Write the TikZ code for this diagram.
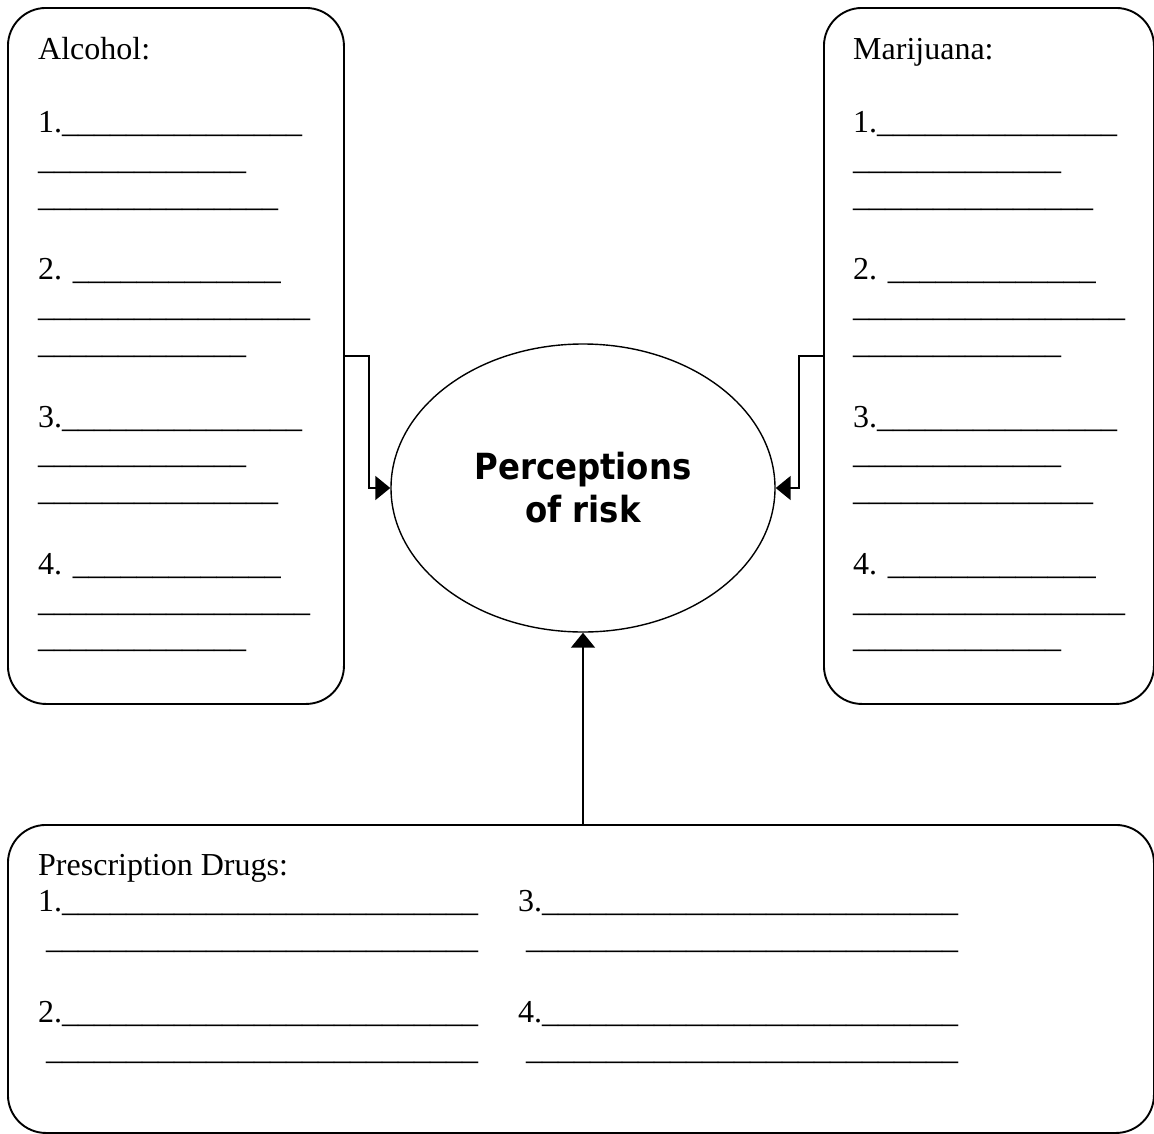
\documentclass[tikz,border=0pt]{standalone}
\usepackage{fontspec}
\setmainfont{Liberation Serif}
\newfontfamily\percfont{DejaVu Sans Condensed}
\usetikzlibrary{shapes.geometric,arrows.meta}
\ExplSyntaxOn
\NewDocumentCommand\uls{m}{\prg_replicate:nn{#1}{\textunderscore}}
\ExplSyntaxOff
\tikzset{
  x=1pt, y=-1pt,
  boxframe/.style={draw=black, line width=1.9pt, rounded corners=38pt, inner sep=0pt, anchor=north west},
  % anchor base west of a multi-line node = baseline of its LAST line
  boxtext/.style={anchor=base west, inner sep=0pt, align=left, font=\fontsize{32}{36.8}\selectfont},
  conn/.style={line width=1.7pt, -{Triangle[length=15pt,width=24pt]}},
  perc/.style={ellipse, draw=black, line width=1.4pt, inner sep=0pt, minimum width=384pt, minimum height=288pt, align=center, font=\percfont\bfseries\fontsize{36}{43}\selectfont}
}
\begin{document}
\begin{tikzpicture}
\useasboundingbox (0,0) rectangle (1154,1133);
\fill[white] (0,0) rectangle (1154,1133);

% boxes
\node[boxframe, minimum width=336pt, minimum height=696pt] (alc) at (7,7) {};
\node[boxframe, minimum width=330pt, minimum height=696pt] (mar) at (823,7) {};
\node[boxframe, minimum width=1146pt, minimum height=308pt] (pd) at (7,824) {};

% ellipse
\node[perc] (risk) at (583,488) {Perceptions\\of risk};

% box texts (positioned by the baseline of the last line)
\node[boxtext] (alctxt) at (38,647.8) {Alcohol:\\[36.8pt]
1.\uls{15}\\
\uls{13}\\
\uls{15}\\[36.8pt]
2. \uls{13}\\
\uls{17}\\
\uls{13}\\[36.8pt]
3.\uls{15}\\
\uls{13}\\
\uls{15}\\[36.8pt]
4. \uls{13}\\
\uls{17}\\
\uls{13}};

\node[boxtext] (martxt) at (853,647.8) {Marijuana:\\[36.8pt]
1.\uls{15}\\
\uls{13}\\
\uls{15}\\[36.8pt]
2. \uls{13}\\
\uls{17}\\
\uls{13}\\[36.8pt]
3.\uls{15}\\
\uls{13}\\
\uls{15}\\[36.8pt]
4. \uls{13}\\
\uls{17}\\
\uls{13}};

\node[boxtext] (pdtxt) at (38,1059) {Prescription Drugs:\\
1.\uls{26}\\
\hspace*{8pt}\uls{27}\\[36.8pt]
2.\uls{26}\\
\hspace*{8pt}\uls{27}};

\node[boxtext] (pdtxtb) at (518,1059) {3.\uls{26}\\
\hspace*{8pt}\uls{27}\\[36.8pt]
4.\uls{26}\\
\hspace*{8pt}\uls{27}};

% connectors
\draw[conn] (alc.east) -- ++(24,0) |- (risk.west);
\draw[conn] (mar.west) -- ++(-24,0) |- (risk.east);
\draw[conn] (risk.south |- pd.north) -- (risk.south);
\end{tikzpicture}
\end{document}
